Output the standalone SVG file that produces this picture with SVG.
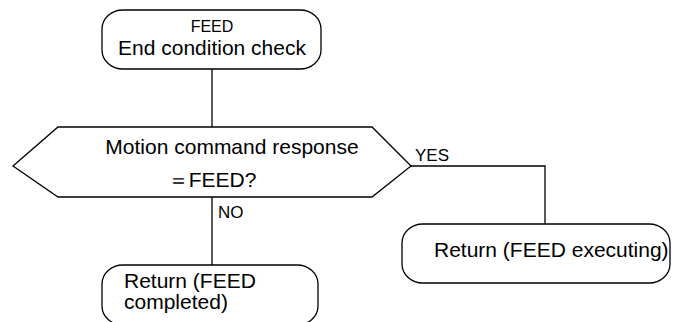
<svg xmlns="http://www.w3.org/2000/svg" width="675" height="322" viewBox="0 0 675 322">
<style>
.s{fill:#fff;stroke:#000;stroke-width:1.3}
.c{fill:none;stroke:#000;stroke-width:1.3}
text{font-family:"Liberation Sans",Arial,sans-serif;fill:#000}
.big{font-size:21px}
.sm{font-size:17px}
.ft{font-size:16px}
</style>
<rect width="675" height="322" fill="#fff"/>
<g id="connectors">
<line class="c" x1="212" y1="69" x2="212" y2="127"/>
<line class="c" x1="212" y1="197" x2="212" y2="265"/>
<polyline class="c" points="411,166 545,166 545,224"/>
<text class="sm" x="415" y="161">YES</text>
<text class="sm" x="218" y="218">NO</text>
</g>
<g id="start">
<rect class="s" x="102" y="10" width="219" height="59" rx="21" ry="19"/>
<text class="ft" x="212" y="32" text-anchor="middle">FEED</text>
<text class="big" x="212" y="55" text-anchor="middle">End condition check</text>
</g>
<g id="decision">
<polygon class="s" points="13,166 58,127 372,127 411,166 372,197 58,197"/>
<text class="big" x="232" y="154" text-anchor="middle">Motion command response</text>
<text class="big" x="212" y="187" text-anchor="middle">＝FEED?</text>
</g>
<g id="executing">
<rect class="s" x="402" y="224" width="268" height="59" rx="21" ry="19"/>
<text class="big" x="434" y="257">Return (FEED executing)</text>
</g>
<g id="completed">
<rect class="s" x="102" y="265" width="216" height="60" rx="21" ry="19"/>
<text class="big" x="124" y="288">Return (FEED</text>
<text class="big" x="124" y="309">completed)</text>
</g>
</svg>
